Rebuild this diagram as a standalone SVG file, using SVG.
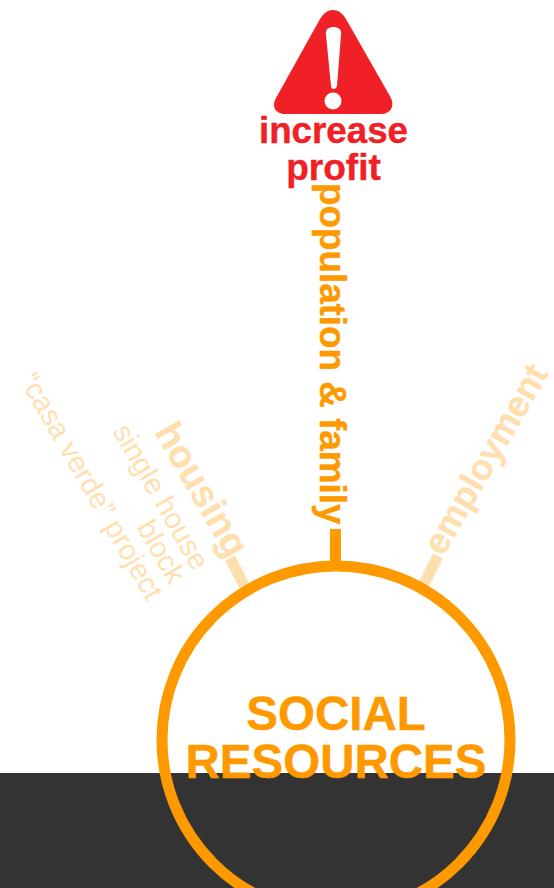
<svg xmlns="http://www.w3.org/2000/svg" width="554" height="888" viewBox="0 0 554 888">
<style>
text{font-family:"Liberation Sans",Arial,sans-serif}
.b{font-weight:700;stroke-width:.4;paint-order:stroke}
.o{fill:#f90;stroke:#f90}
.p{fill:#ffdfb0}
.bp{stroke:#ffdfb0}
.r{fill:#f02027;stroke:#f02027}
.m{text-anchor:middle}
</style>
<rect width="554" height="888" fill="#fff"/>
<rect id="ground" x="0" y="773" width="554" height="115" fill="#333"/>
<g id="connectors">
<line x1="335.500" y1="529" x2="335.500" y2="566" stroke="#f90" stroke-width="11"/>
<line x1="230" y1="558" x2="245" y2="587" stroke="#ffdfb0" stroke-width="11"/>
<line x1="438" y1="556" x2="423" y2="586" stroke="#ffdfb0" stroke-width="11"/>
</g>
<g id="social-resources">
<circle cx="336" cy="740" r="174" fill="none" stroke="#f90" stroke-width="11"/>
<text class="b o m" x="336" y="730" font-size="47.500">SOCIAL</text>
<text class="b o m" x="336" y="778" font-size="47.500">RESOURCES</text>
</g>
<g id="increase-profit">
<path d="M333 10C327 10 323 14 320 19L276 98C271 107 276 114 285 114H381C390 114 395 107 391 98L346 19C343 14 339 10 333 10Z" fill="#f02027"/>
<path d="M326 35C325 29 329 27 333.500 27C338 27 342 29 341 35L337 86C336 90 331 90 331 86Z" fill="#fff"/>
<circle cx="333" cy="101" r="8.500" fill="#fff"/>
<text class="b r m" x="333.500" y="143" font-size="36.500" textLength="149" lengthAdjust="spacingAndGlyphs">increase</text>
<text class="b r m" x="333.500" y="180" font-size="37">profit</text>
</g>
<g id="population-family">
<text class="b o" transform="translate(320 183) rotate(90)" font-size="36.800">population &amp; family</text>
</g>
<g id="housing">
<text class="b p bp" transform="translate(154 432) rotate(60)" font-size="38">housing</text>
<text class="p" transform="translate(112 431) rotate(60)" font-size="29">single house</text>
<text class="p" transform="translate(136 527) rotate(60)" font-size="29">block</text>
<text class="p" transform="translate(19 380) rotate(60)" font-size="29">“casa verde” project</text>
</g>
<g id="employment">
<text class="b p bp" transform="translate(443 557) rotate(-60)" font-size="36">employment</text>
</g>
</svg>
